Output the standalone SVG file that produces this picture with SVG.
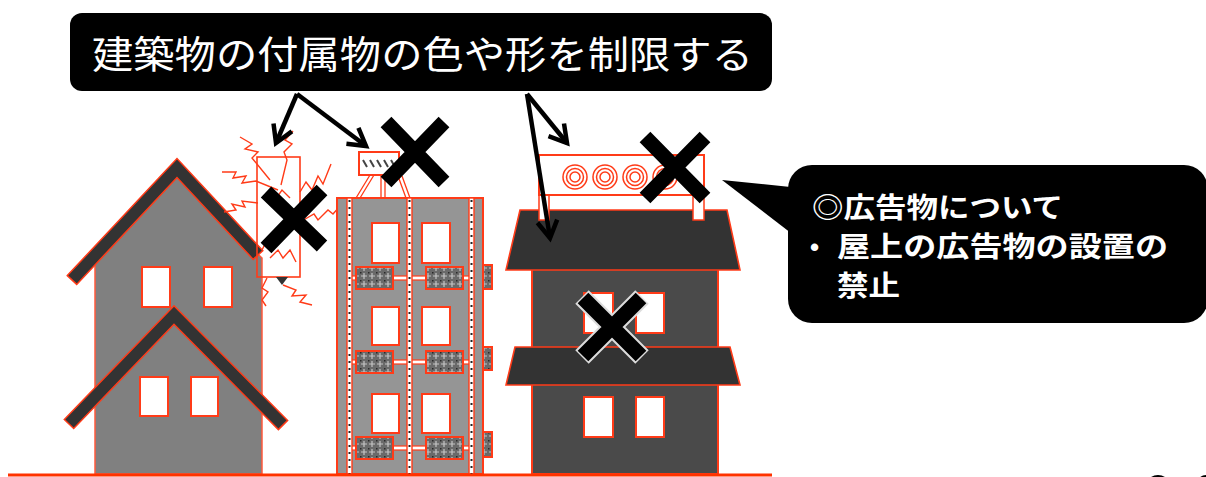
<svg xmlns="http://www.w3.org/2000/svg" width="1206" height="477" viewBox="0 0 1206 477">
  <defs>
    <style>
      .lbl { font-family: "Noto Sans CJK JP", "Noto Sans CJK SC", sans-serif; fill: #fff; }
      .win { fill: #fff; stroke: #ff3b18; stroke-width: 2; }
      .zig { fill: none; stroke: #ff3b18; stroke-width: 1.4; stroke-linejoin: miter; }
      .cross { stroke: #000; stroke-width: 15; stroke-linecap: butt; }
      .arrow { fill: none; stroke: #000; stroke-width: 4.5; marker-end: url(#vhead); }
      .unit { fill: url(#mesh); stroke: #ff3b18; stroke-width: 2; }
      .pipe { fill: #fff; stroke: #ff3b18; stroke-width: 1.2; }
    </style>
    <marker id="vhead" viewBox="-24 -14 30 28" markerWidth="30" markerHeight="28" refX="0" refY="0" orient="auto" markerUnits="userSpaceOnUse">
      <path d="M-17,-10 L0,0 L-17,10" fill="none" stroke="#000" stroke-width="4.5" stroke-linejoin="miter"/>
    </marker>
    <pattern id="mesh" width="8" height="8" patternUnits="userSpaceOnUse">
      <rect width="8" height="8" fill="#6a6a6a"/>
      <path d="M4,1 V7 M1,4 H7" stroke="#c4c4c4" stroke-width="1.2"/>
      <rect x="0" y="0" width="1.5" height="1.5" fill="#2a2a2a"/>
    </pattern>
  </defs>

  <rect width="1206" height="477" fill="#fff"/>

  <!-- left house -->
  <g id="house-left">
    <polygon points="95,474 95,264 177,177 262,258 262,474" fill="#808080" stroke="#ff5a3c" stroke-width="1.5"/>
    <polygon points="67.3,275.6 177,158.5 262.8,250.6 253.2,259.4 177,177.6 76.7,284.4" fill="#333" stroke="#ff3b18" stroke-width="1.5"/>
    <rect class="win" x="142" y="267" width="28" height="40"/>
    <rect class="win" x="204" y="267" width="28" height="40"/>
    <polygon points="64.3,419.5 174,305.8 287.6,420.4 278.4,429.6 174,324.2 73.7,428.5" fill="#333" stroke="#ff3b18" stroke-width="1.5"/>
    <rect class="win" x="140" y="377" width="28" height="39"/>
    <rect class="win" x="191" y="377" width="27" height="39"/>
  </g>

  <!-- rattling sign fixed to the wall -->
  <g id="wall-sign">
    <rect x="257" y="157" width="43" height="120" fill="none" stroke="#ff3b18" stroke-width="1.6"/>
    <polygon points="276,277 288,277 282,285" fill="#333"/>
    <path class="zig" d="M240,137 L252,144 L245,149 L258,152 L252,158 L270,180"/>
    <path class="zig" d="M293,131 L285,140 L292,144 L284,152 L287,160 L281,185"/>
    <path class="zig" d="M222,172 L236,172 L233,178 L246,176 L242,183 L256,181 L278,190"/>
    <path class="zig" d="M300,192 L306,182 L312,190 L318,176 L323,184 L331,164"/>
    <path class="zig" d="M224,212 L236,210 L232,204 L245,207 L242,201 L258,203"/>
    <path class="zig" d="M300,222 L314,214 L318,220 L328,210 L333,214 L341,205"/>
    <path class="zig" d="M267,278 L262,288 L268,292 L262,300 L266,306"/>
    <path class="zig" d="M283,285 L296,290 L292,296 L306,295 L300,302 L312,305"/>
    <path class="zig" d="M270,258 L278,250 L283,258 L290,250 L296,262"/>
    <path class="zig" d="M275,200 L282,190 L290,198 M268,238 L262,250"/>
  </g>

  <!-- apartment block -->
  <g id="apartment">
    <rect x="337" y="198" width="146" height="276" fill="#959595" stroke="#ff3b18" stroke-width="2"/>
    <g id="apartment-windows">
      <rect class="win" x="372" y="223" width="27" height="40"/>
      <rect class="win" x="422" y="223" width="28" height="40"/>
      <rect class="win" x="372" y="307" width="27" height="38"/>
      <rect class="win" x="422" y="307" width="28" height="38"/>
      <rect class="win" x="372" y="394" width="27" height="39"/>
      <rect class="win" x="422" y="394" width="28" height="39"/>
    </g>
    <g id="apartment-pipes">
      <rect class="pipe" x="350" y="276" width="8" height="4"/>
      <rect class="pipe" x="392" y="276" width="36" height="4"/>
      <rect class="pipe" x="462" y="276" width="9" height="4"/>
      <rect class="pipe" x="350" y="360" width="8" height="4"/>
      <rect class="pipe" x="392" y="360" width="36" height="4"/>
      <rect class="pipe" x="462" y="360" width="9" height="4"/>
      <rect class="pipe" x="350" y="446" width="8" height="4"/>
      <rect class="pipe" x="392" y="446" width="36" height="4"/>
      <rect class="pipe" x="462" y="446" width="9" height="4"/>
    </g>
    <g id="apartment-pillars">
      <rect x="347" y="198" width="5" height="276" fill="#fff" stroke="#ff3b18" stroke-width="1.4"/>
      <rect x="407" y="198" width="5" height="276" fill="#fff" stroke="#ff3b18" stroke-width="1.4"/>
      <rect x="469" y="198" width="5" height="276" fill="#fff" stroke="#ff3b18" stroke-width="1.4"/>
      <path d="M349.5,200 V474 M409.5,200 V474 M471.5,200 V474" stroke="#222" stroke-width="2" stroke-dasharray="2 5"/>
    </g>
    <g id="apartment-units">
      <rect class="unit" x="356" y="267" width="37" height="22"/>
      <rect class="unit" x="426" y="267" width="37" height="22"/>
      <rect class="unit" x="356" y="351" width="37" height="22"/>
      <rect class="unit" x="426" y="351" width="37" height="22"/>
      <rect class="unit" x="356" y="437" width="37" height="22"/>
      <rect class="unit" x="426" y="437" width="37" height="22"/>
      <rect class="unit" x="483" y="265" width="9" height="24"/>
      <rect class="unit" x="483" y="347" width="9" height="23"/>
      <rect class="unit" x="483" y="432" width="9" height="25"/>
    </g>
  </g>

  <!-- small rooftop sign on the apartment block -->
  <g id="billboard-mid">
    <path d="M370,175 L356,198 M374,175 L360,198" stroke="#ff3b18" stroke-width="1.3"/>
    <path d="M381,175 V198 M385,175 V198" stroke="#ff3b18" stroke-width="1.3"/>
    <path d="M398,176 L406,198 M402,176 L410,198" stroke="#ff3b18" stroke-width="1.3"/>
    <rect x="359" y="152" width="40" height="23" fill="#fff" stroke="#ff3b18" stroke-width="2"/>
    <path d="M363,160 l4,7 M370,160 l4,7 M377,160 l4,7 M384,160 l4,7 M391,160 l4,7" stroke="#444" stroke-width="2"/>
  </g>

  <!-- two-storey building with eaves -->
  <g id="building-right">
    <rect x="532" y="268" width="186" height="206" fill="#4a4a4a" stroke="#ff3b18" stroke-width="2"/>
    <polygon points="520,210 727,210 740,270 506,270" fill="#333" stroke="#ff3b18" stroke-width="1.6"/>
    <polygon points="515,347 730,347 740,385 506,385" fill="#333" stroke="#ff3b18" stroke-width="1.6"/>
    <rect class="win" x="584" y="293" width="29" height="40"/>
    <rect class="win" x="636" y="293" width="28" height="40"/>
    <rect class="win" x="584" y="397" width="29" height="40"/>
    <rect class="win" x="636" y="397" width="28" height="40"/>
  </g>

  <!-- rooftop billboard on the right building -->
  <g id="billboard-right">
    <rect x="539" y="193" width="10" height="27" fill="#fff" stroke="#ff3b18" stroke-width="1.5"/>
    <rect x="693" y="193" width="11" height="27" fill="#fff" stroke="#ff3b18" stroke-width="1.5"/>
    <rect x="539" y="155" width="165" height="40" fill="#fff" stroke="#ff3b18" stroke-width="2"/>
    <g fill="none" stroke="#ff3b18" stroke-width="1.5">
      <circle cx="575" cy="177" r="12"/><circle cx="575" cy="177" r="8.5"/><circle cx="575" cy="177" r="5"/>
      <circle cx="605" cy="177" r="12"/><circle cx="605" cy="177" r="8.5"/><circle cx="605" cy="177" r="5"/>
      <circle cx="635" cy="177" r="12"/><circle cx="635" cy="177" r="8.5"/><circle cx="635" cy="177" r="5"/>
      <circle cx="665" cy="177" r="12"/><circle cx="665" cy="177" r="8.5"/><circle cx="665" cy="177" r="5"/>
    </g>
  </g>

  <!-- prohibition crosses -->
  <g id="crosses">
    <path class="cross" d="M266,192 L322,246 M322,190 L266,248"/>
    <path class="cross" d="M386,122 L444,182 M444,122 L386,182"/>
    <path class="cross" d="M645,137 L705,198 M705,137 L645,198"/>
    <path d="M582,297 L642,357 M642,297 L582,357" stroke="#ddd" stroke-width="19"/>
    <path class="cross" d="M583,298 L641,356 M641,298 L583,356" stroke-width="14"/>
  </g>

  <!-- ground line -->
  <line id="ground" x1="8" y1="475" x2="772" y2="475" stroke="#ff3300" stroke-width="3"/>

  <!-- heading label -->
  <g id="label-top">
    <rect x="70" y="13" width="702" height="78" rx="12" fill="#000"/>
    <text class="lbl" x="92" y="68" font-size="38" textLength="661" lengthAdjust="spacingAndGlyphs">建築物の付属物の色や形を制限する</text>
  </g>

  <!-- pointer arrows from the heading -->
  <g id="connectors">
    <path class="arrow" d="M297,94 L276,143"/>
    <path class="arrow" d="M297,94 L366,146"/>
    <path class="arrow" d="M527,94 L567,143"/>
    <path class="arrow" d="M527,94 L550,238"/>
  </g>

  <!-- speech balloon about outdoor advertising -->
  <g id="callout">
    <polygon points="722,180 800,188 800,240" fill="#000"/>
    <rect x="788" y="165" width="420" height="158" rx="24" fill="#000"/>
    <text class="lbl" x="812" y="218" font-size="28" font-weight="bold" textLength="251" lengthAdjust="spacingAndGlyphs">◎広告物について</text>
    <text x="810" y="256" font-family="Liberation Sans, sans-serif" font-size="26" font-weight="bold" fill="#fff">•</text>
    <text class="lbl" x="837" y="257" font-size="28" font-weight="bold" textLength="331" lengthAdjust="spacingAndGlyphs">屋上の広告物の設置の</text>
    <text class="lbl" x="837" y="296" font-size="28" font-weight="bold" textLength="63" lengthAdjust="spacingAndGlyphs">禁止</text>
  </g>

  <!-- shapes cut off at the lower right edge -->
  <g id="edge-shapes" fill="#000">
    <ellipse cx="1158" cy="486" rx="12" ry="11"/>
    <ellipse cx="1206" cy="486" rx="10" ry="11"/>
  </g>
</svg>
